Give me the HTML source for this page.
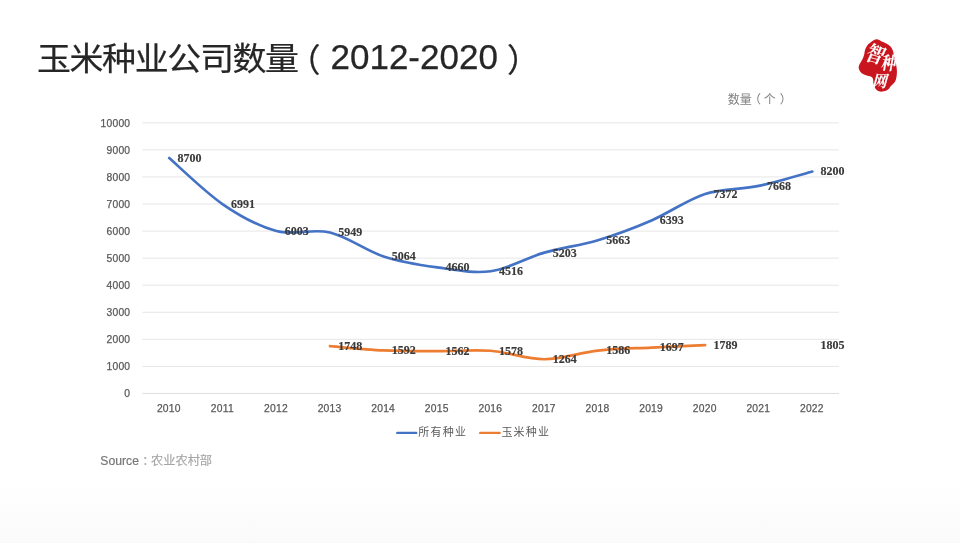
<!DOCTYPE html>
<html lang="zh-CN">
<head>
<meta charset="utf-8">
<title>玉米种业公司数量（2012-2020）</title>
<style>
html,body{margin:0;padding:0;}
body{width:960px;height:543px;overflow:hidden;background:#fff;position:relative;font-family:"Liberation Sans","Noto Sans CJK SC",sans-serif;}
.bg{position:absolute;left:0;top:0;width:960px;height:543px;background:linear-gradient(to bottom,#ffffff 0,#ffffff 480px,#fafafa 543px);}
h1{position:absolute;left:0;top:0;width:960px;height:90px;margin:0;font-weight:400;font-size:33px;color:#262626;white-space:nowrap;-webkit-text-stroke:0.25px #262626;}
h1 span{position:absolute;line-height:44px;height:44px;}
h1 .c{left:36.9px;top:36.8px;font-size:34px;letter-spacing:-1.4px;transform:scaleY(0.945);transform-origin:0 50%;}
h1 .p1{left:288.1px;top:39.0px;font-size:32.5px;}
h1 .n{left:330.5px;top:34.6px;font-size:35px;letter-spacing:0px;}
h1 .p2{left:506.9px;top:39.0px;font-size:32.5px;}
.src{position:absolute;left:100.3px;top:451.8px;font-size:12.2px;line-height:18px;color:#777;white-space:nowrap;-webkit-text-stroke:0.2px #777;}
.src span{color:#a6a6a6;-webkit-text-stroke:0.15px #a6a6a6;}
.src i{font-style:normal;position:relative;left:3.4px;}
svg{position:absolute;left:0;top:0;}
svg text{font-family:"Liberation Sans","Noto Sans CJK SC",sans-serif;}
.ax{font-size:10.3px;fill:#595959;stroke:#595959;stroke-width:0.25px;letter-spacing:0.22px;}
.dl{font-family:"Liberation Serif","Noto Serif CJK SC",serif;font-weight:700;font-size:12px;fill:#3a3a3a;stroke:#3a3a3a;stroke-width:0.15px;}
.lg{font-size:11px;fill:#595959;letter-spacing:1.2px;}
.un{font-size:12px;fill:#808080;}
.seal{font-family:"Liberation Serif","Noto Serif CJK SC",serif;font-weight:700;fill:#fff;stroke:#fff;stroke-width:0.12px;}
</style>
</head>
<body>
<div class="bg"></div>
<h1><span class="c">玉米种业公司数量</span><span class="p1">（</span><span class="n">2012-2020</span><span class="p2">）</span></h1>
<svg width="960" height="543" viewBox="0 0 960 543">
<line x1="142.4" x2="839.0" y1="393.46" y2="393.46" stroke="#dedede" stroke-width="1"/>
<line x1="142.4" x2="839.0" y1="366.40" y2="366.40" stroke="#e6e6e6" stroke-width="1"/>
<line x1="142.4" x2="839.0" y1="339.33" y2="339.33" stroke="#e6e6e6" stroke-width="1"/>
<line x1="142.4" x2="839.0" y1="312.27" y2="312.27" stroke="#e6e6e6" stroke-width="1"/>
<line x1="142.4" x2="839.0" y1="285.21" y2="285.21" stroke="#e6e6e6" stroke-width="1"/>
<line x1="142.4" x2="839.0" y1="258.14" y2="258.14" stroke="#e6e6e6" stroke-width="1"/>
<line x1="142.4" x2="839.0" y1="231.08" y2="231.08" stroke="#e6e6e6" stroke-width="1"/>
<line x1="142.4" x2="839.0" y1="204.02" y2="204.02" stroke="#e6e6e6" stroke-width="1"/>
<line x1="142.4" x2="839.0" y1="176.96" y2="176.96" stroke="#e6e6e6" stroke-width="1"/>
<line x1="142.4" x2="839.0" y1="149.89" y2="149.89" stroke="#e6e6e6" stroke-width="1"/>
<line x1="142.4" x2="839.0" y1="122.83" y2="122.83" stroke="#e6e6e6" stroke-width="1"/>
<text class="ax" x="130.3" y="397.21" text-anchor="end">0</text>
<text class="ax" x="130.3" y="370.15" text-anchor="end">1000</text>
<text class="ax" x="130.3" y="343.08" text-anchor="end">2000</text>
<text class="ax" x="130.3" y="316.02" text-anchor="end">3000</text>
<text class="ax" x="130.3" y="288.96" text-anchor="end">4000</text>
<text class="ax" x="130.3" y="261.89" text-anchor="end">5000</text>
<text class="ax" x="130.3" y="234.83" text-anchor="end">6000</text>
<text class="ax" x="130.3" y="207.77" text-anchor="end">7000</text>
<text class="ax" x="130.3" y="180.71" text-anchor="end">8000</text>
<text class="ax" x="130.3" y="153.64" text-anchor="end">9000</text>
<text class="ax" x="130.3" y="126.58" text-anchor="end">10000</text>
<text class="ax" x="168.80" y="412.2" text-anchor="middle">2010</text>
<text class="ax" x="222.39" y="412.2" text-anchor="middle">2011</text>
<text class="ax" x="275.98" y="412.2" text-anchor="middle">2012</text>
<text class="ax" x="329.57" y="412.2" text-anchor="middle">2013</text>
<text class="ax" x="383.16" y="412.2" text-anchor="middle">2014</text>
<text class="ax" x="436.75" y="412.2" text-anchor="middle">2015</text>
<text class="ax" x="490.34" y="412.2" text-anchor="middle">2016</text>
<text class="ax" x="543.93" y="412.2" text-anchor="middle">2017</text>
<text class="ax" x="597.52" y="412.2" text-anchor="middle">2018</text>
<text class="ax" x="651.11" y="412.2" text-anchor="middle">2019</text>
<text class="ax" x="704.70" y="412.2" text-anchor="middle">2020</text>
<text class="ax" x="758.29" y="412.2" text-anchor="middle">2021</text>
<text class="ax" x="811.88" y="412.2" text-anchor="middle">2022</text>
<path d="M169.20 158.01 C178.13 165.72 204.93 192.10 222.79 204.26 C240.65 216.43 258.52 226.30 276.38 231.00 C294.24 235.70 312.11 228.23 329.97 232.46 C347.83 236.70 365.70 250.60 383.56 256.41 C401.42 262.23 419.29 264.87 437.15 267.35 C455.01 269.82 472.88 273.69 490.74 271.24 C508.60 268.79 526.47 257.82 544.33 252.65 C562.19 247.48 580.06 245.57 597.92 240.20 C615.78 234.83 633.65 228.15 651.51 220.45 C669.37 212.74 687.24 199.70 705.10 193.95 C722.96 188.20 740.83 189.68 758.69 185.94 C776.55 182.21 803.35 173.94 812.28 171.54" fill="none" stroke="#4472c4" stroke-width="2.7" stroke-linecap="round" stroke-linejoin="round"/>
<path d="M329.97 346.15 C338.90 346.86 365.70 349.54 383.56 350.38 C401.42 351.21 419.29 351.12 437.15 351.19 C455.01 351.25 472.88 349.41 490.74 350.75 C508.60 352.10 526.47 359.29 544.33 359.25 C562.19 359.22 580.06 352.49 597.92 350.54 C615.78 348.59 633.65 348.45 651.51 347.53 C669.37 346.62 696.17 345.46 705.10 345.04" fill="none" stroke="#ed7d31" stroke-width="2.7" stroke-linecap="round" stroke-linejoin="round"/>
<text class="dl" x="177.50" y="161.96">8700</text>
<text class="dl" x="231.09" y="208.21">6991</text>
<text class="dl" x="284.68" y="234.95">6003</text>
<text class="dl" x="338.27" y="236.41">5949</text>
<text class="dl" x="391.86" y="260.36">5064</text>
<text class="dl" x="445.45" y="271.30">4660</text>
<text class="dl" x="499.04" y="275.19">4516</text>
<text class="dl" x="552.63" y="256.60">5203</text>
<text class="dl" x="606.22" y="244.15">5663</text>
<text class="dl" x="659.81" y="224.40">6393</text>
<text class="dl" x="713.40" y="197.90">7372</text>
<text class="dl" x="766.99" y="189.89">7668</text>
<text class="dl" x="820.58" y="175.49">8200</text>
<text class="dl" x="338.27" y="350.10">1748</text>
<text class="dl" x="391.86" y="354.33">1592</text>
<text class="dl" x="445.45" y="355.14">1562</text>
<text class="dl" x="499.04" y="354.70">1578</text>
<text class="dl" x="552.63" y="363.20">1264</text>
<text class="dl" x="606.22" y="354.49">1586</text>
<text class="dl" x="659.81" y="351.48">1697</text>
<text class="dl" x="713.40" y="348.99">1789</text>
<text class="dl" x="820.58" y="348.56">1805</text>
<line x1="397.3" x2="416.2" y1="432.9" y2="432.9" stroke="#4472c4" stroke-width="2.4" stroke-linecap="round"/>
<text class="lg" x="418.3" y="436.4">所有种业</text>
<line x1="480.2" x2="499.6" y1="432.9" y2="432.9" stroke="#ed7d31" stroke-width="2.4" stroke-linecap="round"/>
<text class="lg" x="501.4" y="436.4">玉米种业</text>
<text class="un" x="727.8" y="104.3">数量<tspan dx="-2.7">（</tspan><tspan dx="2.7">个</tspan><tspan dx="3.8">）</tspan></text>
<path d="M876.5 39.3 C878.3 39.2 880.1 40.6 881.8 41.4 C883.5 42.1 885.1 42.9 886.6 43.8 C888.1 44.7 889.6 45.5 890.7 46.7 C891.8 47.9 892.5 49.4 893.0 50.9 C893.5 52.4 893.5 53.8 893.9 55.6 C894.3 57.4 894.9 59.5 895.4 61.5 C895.9 63.5 896.4 65.4 896.6 67.4 C896.9 69.4 897.0 71.3 896.9 73.3 C896.8 75.3 896.5 77.6 896.0 79.2 C895.5 80.8 895.1 81.5 894.2 82.7 C893.3 83.9 891.8 85.0 890.7 86.2 C889.6 87.4 889.1 88.9 887.7 89.8 C886.3 90.7 884.0 91.4 882.4 91.6 C880.8 91.8 879.5 91.5 878.3 91.0 C877.1 90.5 876.2 89.8 875.4 88.6 C874.6 87.4 874.0 85.5 873.6 83.9 C873.2 82.3 873.4 80.4 873.0 79.2 C872.6 78.0 872.5 77.5 871.2 76.8 C869.9 76.1 867.0 75.7 865.3 75.0 C863.6 74.3 862.3 73.8 861.2 72.7 C860.1 71.6 859.1 69.9 858.8 68.6 C858.5 67.3 858.8 66.2 859.2 65.0 C859.6 63.8 860.6 62.7 861.2 61.5 C861.8 60.3 862.5 59.1 863.0 57.9 C863.5 56.7 863.9 55.8 864.2 54.4 C864.6 53.0 864.5 51.3 865.1 49.7 C865.7 48.1 866.7 46.3 867.7 45.0 C868.7 43.7 869.7 43.0 871.2 42.0 C872.7 41.0 874.7 39.4 876.5 39.3Z" fill="#c9151e"/>
<text class="seal" font-size="17" text-anchor="middle" transform="translate(872.5 61.5) rotate(16) skewX(-8) scale(1.05 1.25)">智</text>
<text class="seal" font-size="14" text-anchor="middle" transform="translate(888 69.5) rotate(4) skewX(-6) scale(1.05 1.3)">种</text>
<text class="seal" font-size="14" text-anchor="middle" transform="translate(879 87) skewX(-16) scale(1.05 1.15)">网</text>

</svg>
<div class="src">Source<span><i>：</i>农业农村部</span></div>
</body>
</html>
